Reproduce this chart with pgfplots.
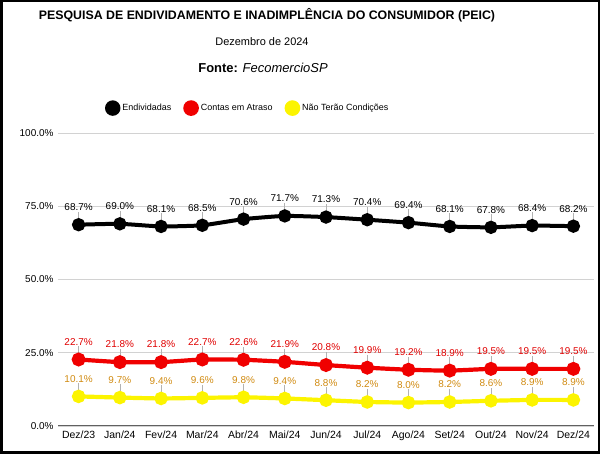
\documentclass[border=0pt]{standalone}
\usepackage{pgfplots}
\pgfplotsset{compat=1.18}
\usepackage{fontspec}
\setmainfont{Liberation Sans}
\definecolor{myred}{HTML}{F00000}
\definecolor{myyellow}{HTML}{FCF400}
\definecolor{ylab}{HTML}{D08A10}
\definecolor{redlab}{HTML}{E00000}
\begin{document}
\begin{tikzpicture}[x=1bp,y=1bp]
\useasboundingbox (0,0) rectangle (600,454);
\draw[line width=2.5bp] (1.25,1.25) rectangle (598.75,452.75);
\node[font=\bfseries\fontsize{12.4}{14}\selectfont] at (267,439) {PESQUISA DE ENDIVIDAMENTO E INADIMPLÊNCIA DO CONSUMIDOR (PEIC)};
\node[font=\fontsize{11}{13}\selectfont] at (262,412) {Dezembro de 2024};
\node[font=\fontsize{13}{15}\selectfont] at (263,386) {\textbf{Fonte:} \textit{FecomercioSP}};
\begin{axis}[
  at={(58bp,28bp)}, anchor=south west, scale only axis,
  width=536bp, height=293bp,
  xmin=-0.5, xmax=12.5, ymin=0, ymax=100,
  xtick={0,...,12},
  xticklabels={Dez/23,Jan/24,Fev/24,Mar/24,Abr/24,Mai/24,Jun/24,Jul/24,Ago/24,Set/24,Out/24,Nov/24,Dez/24},
  ytick={0,25,50,75,100},
  yticklabels={0.0\%,25.0\%,50.0\%,75.0\%,100.0\%},
  ymajorgrids, grid style={gray!35, line width=0.8bp},
  extra y ticks={0}, extra y tick labels={},
  extra y tick style={grid style={gray!75!black, line width=1bp}},
  axis line style={draw=none},
  major tick length=0pt,
  yticklabel style={font=\fontsize{10}{12}\selectfont, xshift=-1bp},
  xticklabel style={font=\fontsize{10.5}{12}\selectfont, yshift=-1bp},
  nodes near coords={\pgfmathprintnumber[fixed,fixed zerofill,precision=1,assume math mode=true]{\pgfplotspointmeta}\%},
  every node near coord/.append style={font=\fontsize{10}{12}\selectfont, inner sep=1bp, yshift=11bp},
  legend style={at={(0.354,1.085)}, anchor=center, draw=none, fill=none,
    legend columns=3, font=\fontsize{9}{11}\selectfont,
    /tikz/every even column/.append style={column sep=10bp}},
  legend image code/.code={\fill (4bp,0bp) circle (5.7bp);},
  error bars/y dir=plus, error bars/y fixed=4.5, error bars/error mark=none,
  error bars/error bar style={gray!60, line width=0.6bp},
]
\addplot[black, line width=4bp, mark=*, mark size=4.6bp, smooth, tension=0.3,
  every node near coord/.append style={text=black}] coordinates {
(0,68.7) (1,69.0) (2,68.1) (3,68.5) (4,70.6) (5,71.7) (6,71.3) (7,70.4) (8,69.4) (9,68.1) (10,67.8) (11,68.4) (12,68.2)};
\addlegendentry{Endividadas}
\addplot[myred, line width=4.2bp, mark=*, mark size=4.8bp, smooth, tension=0.3,
  every node near coord/.append style={text=redlab}] coordinates {
(0,22.7) (1,21.8) (2,21.8) (3,22.7) (4,22.6) (5,21.9) (6,20.8) (7,19.9) (8,19.2) (9,18.9) (10,19.5) (11,19.5) (12,19.5)};
\addlegendentry{Contas em Atraso}
\addplot[myyellow, line width=4.2bp, mark=*, mark size=4.6bp, smooth, tension=0.3,
  every node near coord/.append style={text=ylab}] coordinates {
(0,10.1) (1,9.7) (2,9.4) (3,9.6) (4,9.8) (5,9.4) (6,8.8) (7,8.2) (8,8.0) (9,8.2) (10,8.6) (11,8.9) (12,8.9)};
\addlegendentry{Não Terão Condições}
\end{axis}
\end{tikzpicture}
\end{document}
